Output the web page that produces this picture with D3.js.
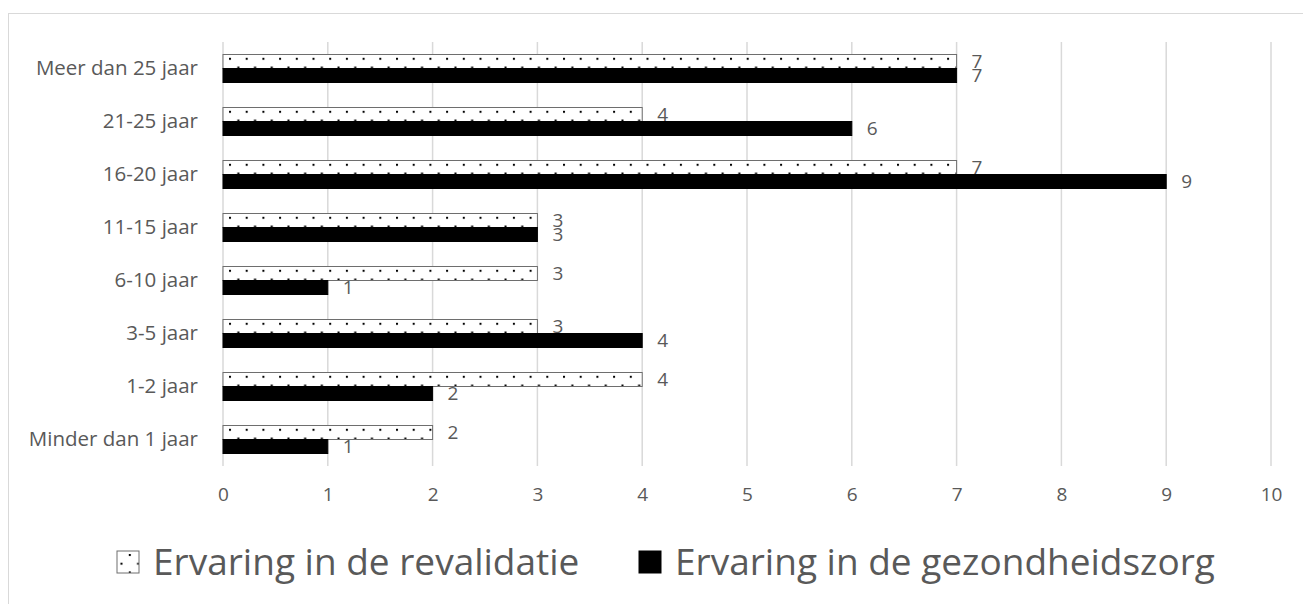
<!DOCTYPE html>
<html>
<head>
<meta charset="utf-8">
<script src="https://cdn.jsdelivr.net/npm/d3@7"></script>
<style>
  body { margin: 0; background: #fff; }
  text { font-family: "Open Sans", sans-serif; fill: #595959; }
</style>
</head>
<body>
<div id="chart"></div>
<script>
var categories = ['Meer dan 25 jaar', '21-25 jaar', '16-20 jaar', '11-15 jaar', '6-10 jaar', '3-5 jaar', '1-2 jaar', 'Minder dan 1 jaar'];
var revalidatie = [7, 4, 7, 3, 3, 3, 4, 2];
var gezondheidszorg = [7, 6, 9, 3, 1, 4, 2, 1];
var seriesNames = ['Ervaring in de revalidatie', 'Ervaring in de gezondheidszorg'];
var xTicks = [0, 1, 2, 3, 4, 5, 6, 7, 8, 9, 10];

var width = 1303, height = 604;
var svg = d3.select('#chart').append('svg')
  .attr('width', width)
  .attr('height', height);

var x = d3.scaleLinear().domain([0, 10]).range([223, 1271]);
var y = d3.scaleBand().domain(categories).range([42, 466]);
var barH = 14;
var defs = svg.append('defs');

// dotted fill like the excel pattern, one per bar so the rows line up
function dotPattern(id, top) {
  var pat = defs.append('pattern')
    .attr('id', id)
    .attr('patternUnits', 'userSpaceOnUse')
    .attr('width', 16.7)
    .attr('height', 17.4)
    .attr('x', 229).attr('y', top);
  pat.append('rect').attr('width', 16.7).attr('height', 17.4).attr('fill', '#fff');
  pat.append('rect').attr('x', 0).attr('y', 0).attr('width', 2).attr('height', 2).attr('fill', '#000');
  pat.append('rect').attr('x', 8.35).attr('y', 8.7).attr('width', 2).attr('height', 2).attr('fill', '#000');
}

// outer frame
svg.append('rect')
  .attr('x', 8.5).attr('y', 13.5)
  .attr('width', 1300).attr('height', 620)
  .attr('fill', 'none')
  .attr('stroke', '#d9d9d9');

// gridlines
svg.append('g').selectAll('line')
  .data(xTicks)
  .enter().append('line')
  .attr('x1', function(d) { return x(d); })
  .attr('x2', function(d) { return x(d); })
  .attr('y1', 42).attr('y2', 466)
  .style('stroke', '#d9d9d9')
  .style('stroke-width', 1.5);

// x tick labels
var xAxis = svg.append('g')
  .attr('transform', 'translate(0,466)')
  .call(d3.axisBottom(x).tickValues(xTicks).tickSize(0).tickPadding(22));
xAxis.select('.domain').remove();
xAxis.selectAll('text').style('font-size', '19px').style('font-family', '"Open Sans", sans-serif').attr('fill', '#595959');

// category labels
var yAxis = svg.append('g')
  .attr('transform', 'translate(223,0)')
  .call(d3.axisLeft(y).tickSize(0).tickPadding(25));
yAxis.select('.domain').remove();
yAxis.selectAll('text').style('font-size', '20.5px').style('font-family', '"Open Sans", sans-serif').attr('fill', '#595959');

var series = [
  { name: seriesNames[0], values: revalidatie, dotted: true, stroke: '#6e6e6e', off: -barH },
  { name: seriesNames[1], values: gezondheidszorg, dotted: false, stroke: '#000', off: 0 }
];

series.forEach(function(s) {
  var g = svg.append('g');
  categories.forEach(function(c, i) {
    var cy = y(c) + y.bandwidth() / 2;
    var top = cy + s.off;
    var fill = '#000';
    if (s.dotted) {
      dotPattern('dots' + i, top + 3.3);
      fill = 'url(#dots' + i + ')';
    }
    g.append('rect')
      .attr('x', x(0))
      .attr('y', top)
      .attr('width', x(s.values[i]) - x(0))
      .attr('height', barH)
      .style('fill', fill)
      .style('stroke', s.stroke)
      .style('stroke-width', 1);
    g.append('text')
      .attr('x', x(s.values[i]) + 15)
      .attr('y', top + barH / 2)
      .attr('dy', '0.36em')
      .style('font-size', '19px')
      .text(s.values[i]);
  });
});

// legend
dotPattern('dotsLegend', 554);
var legend = [
  { name: seriesNames[0], fill: 'url(#dotsLegend)', stroke: '#6e6e6e', x: 117 },
  { name: seriesNames[1], fill: '#000', stroke: '#000', x: 639 }
];
legend.forEach(function(l) {
  svg.append('rect')
    .attr('x', l.x).attr('y', 551)
    .attr('width', 22).attr('height', 22)
    .style('fill', l.fill)
    .style('stroke', l.stroke);
  svg.append('text')
    .attr('x', l.x + 36)
    .attr('y', 562)
    .attr('dy', '0.36em')
    .style('font-size', '37px')
    .text(l.name);
});
</script>
</body>
</html>
